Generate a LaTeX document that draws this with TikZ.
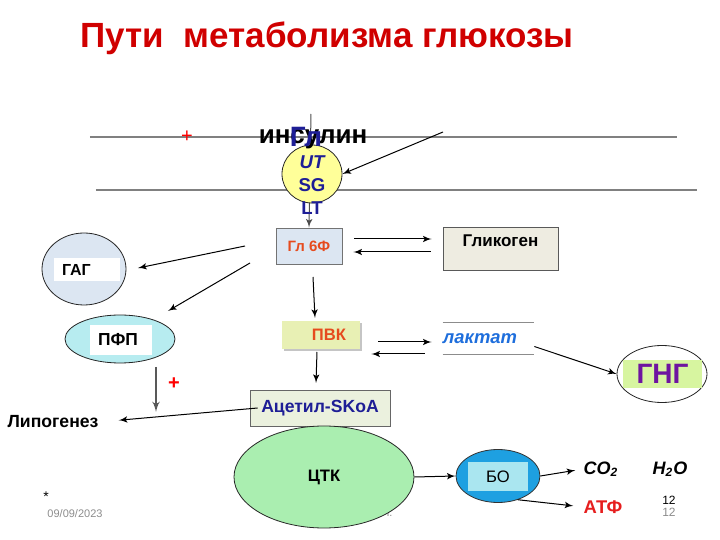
\documentclass[tikz,border=0pt]{standalone}
\usepackage{fontspec}
\setmainfont{Liberation Sans}
\usepackage{tikz}
\usetikzlibrary{shapes,arrows,shadows}
\definecolor{titlered}{RGB}{208,0,0}
\definecolor{membrane}{RGB}{128,128,128}
\definecolor{glutfill}{RGB}{255,255,153}
\definecolor{navy}{RGB}{30,30,150}
\definecolor{bluegray}{RGB}{220,230,242}
\definecolor{orred}{RGB}{230,75,30}
\definecolor{glycfill}{RGB}{238,236,225}
\definecolor{pfpfill}{RGB}{183,236,240}
\definecolor{pvkfill}{RGB}{232,240,180}
\definecolor{laktblue}{RGB}{30,110,220}
\definecolor{gngfill}{RGB}{215,245,160}
\definecolor{gngtext}{RGB}{110,20,160}
\definecolor{acfill}{RGB}{235,241,222}
\definecolor{ctkfill}{RGB}{170,238,176}
\definecolor{bofill}{RGB}{30,160,225}
\definecolor{boinner}{RGB}{170,230,240}
\definecolor{atfred}{RGB}{230,30,30}
\newcommand*{\fs}[1]{\fontsize{#1}{#1}\selectfont}
\tikzstyle{block} = [draw=black!55, rectangle, inner sep=0pt]
\tikzstyle{pool} = [draw=black!85, ellipse, inner sep=0pt]
\tikzstyle{tag} = [fill=white, rectangle, inner sep=0pt]
\tikzstyle{txt} = [inner sep=0pt, font=\bfseries]
\tikzstyle{arr} = [->, line width=0.5pt]
\tikzstyle{wall} = [draw=membrane, line width=1pt]

\begin{document}
\begin{tikzpicture}[x=0.5pt, y=-0.5pt, >=latex']
    \useasboundingbox (0,0) rectangle (720,540);
    \node [txt, text=titlered, font=\bfseries\fs{17.5}] (title) at (327,38) {Пути~ метаболизма глюкозы};

    % membrane
    \coordinate (m1a) at (90,137);
    \coordinate (m1b) at (677,137);
    \coordinate (m2a) at (96,190);
    \coordinate (m2b) at (697,190);
    \coordinate (mtop) at (311,114);
    \draw [wall] (m1a) -- (m1b);
    \draw [wall] (m2a) -- (m2b);
    \node [txt, text=red, font=\fs{10}] (plus1) at (187,137) {+};

    \node [block, fill=bluegray, minimum width=33pt, minimum height=18pt,
           font=\bfseries\fs{7.5}, text=orred] (gl6f) at (309,246) {Гл 6Ф};
    \draw [arr, draw=black!70] (mtop) -- (gl6f.north);
    \node [pool, fill=glutfill, minimum width=30pt, minimum height=29pt] (glut) at (312,174) {};
    \node [txt, font=\bfseries\fs{13}] (insulin) at (313,139) {инсулин};
    \node [txt, text=navy, font=\bfseries\fs{14}] (gl) at (306,137) {Гл};
    \node [txt, text=navy, font=\bfseries\itshape\fs{9.3}] (ut) at (312,162) {UT};
    \node [txt, text=navy, font=\bfseries\fs{9.3}] (sg) at (312,185) {SG};
    \node [txt, text=navy, font=\bfseries\fs{9.3}] (lt) at (312,208) {LT};
    \coordinate (insA) at (443,132);
    \draw [arr] (insA) -- (glut.east);

    % glycogen
    \node [block, draw=black!65, fill=glycfill, minimum width=57.5pt, minimum height=21.5pt,
           text height=10pt, text depth=11.5pt, font=\bfseries\fs{8.5}] (glyc) at (500.5,248.5) {Гликоген};
    \draw [arr, shorten <=6pt, shorten >=5.5pt] ([yshift=3.5pt]gl6f.east) -- ([yshift=3.5pt]gl6f.east -| glyc.west);
    \draw [arr, shorten <=6pt, shorten >=5.5pt] ([yshift=-3pt]gl6f.east -| glyc.west) -- ([yshift=-3pt]gl6f.east);

    % GAG and PFP
    \node [pool, fill=bluegray, minimum width=42pt, minimum height=36pt] (gag) at (84,269) {};
    \node [tag, minimum width=33pt, minimum height=11.5pt, text width=25pt, inner xsep=4pt,
           align=left, font=\bfseries\fs{8}] (gagt) at (87,269.5) {ГАГ};
    \node [pool, fill=pfpfill, minimum width=55pt, minimum height=24pt] (pfp) at (120,339) {};
    \node [tag, minimum width=31pt, minimum height=15pt, text width=23pt, inner xsep=4pt,
           align=left, font=\bfseries\fs{8.7}] (pfpt) at (121,340) {ПФП};
    \coordinate (g1a) at (245,246);
    \coordinate (g1b) at (138,268);
    \coordinate (g2a) at (250,263);
    \coordinate (g2b) at (168,311);
    \draw [arr] (g1a) -- (g1b);
    \draw [arr] (g2a) -- (g2b);

    % PVK and lactate
    \node [rectangle, inner sep=0pt, fill=pvkfill, minimum width=39pt, minimum height=14pt,
           drop shadow={shadow xshift=1pt, shadow yshift=-1pt, fill=black!45},
           text width=39pt, align=right, font=\bfseries\fs{8.3}, text=orred] (pvk) at (321,335) {ПВК\hspace*{7pt}};
    \coordinate (p1a) at (313,277);
    \coordinate (p1b) at (315,318);
    \draw [arr] (p1a) -- (p1b);
    \node [inner sep=0pt, minimum width=45.5pt, minimum height=15.5pt, text width=45.5pt, align=left,
           font=\bfseries\itshape\fs{9.2}, text=laktblue] (lakt) at (488.5,338.5) {лактат};
    \draw [draw=black!45, line width=0.6pt] (lakt.north west) -- (lakt.north east);
    \draw [draw=black!45, line width=0.6pt] (lakt.south west) -- (lakt.south east);
    \draw [arr, shorten <=9pt, shorten >=5.5pt] ([yshift=-3.5pt]pvk.east) -- ([yshift=-3.5pt]pvk.east -| lakt.west);
    \draw [arr, shorten <=9pt, shorten >=5.5pt] ([yshift=-9.5pt]pvk.east -| lakt.west) -- ([yshift=-9.5pt]pvk.east);
    \node [pool, fill=white, minimum width=45pt, minimum height=28.5pt] (gng) at (662,374) {};
    \node [rectangle, inner sep=0pt, fill=gngfill, minimum width=39.5pt, minimum height=14pt,
           font=\bfseries\fs{14}, text=gngtext] (gngt) at (662.5,374) {ГНГ};
    \draw [arr] ([yshift=-4pt]lakt.east) -- (gng.west);

    % acetyl-CoA and lipogenesis
    \node [block, draw=black!60, fill=acfill, minimum width=70pt, minimum height=18pt,
           font=\bfseries\fs{8.8}, text=navy] (acetyl) at (320,408) {Ацетил-SKoA};
    \coordinate (a1a) at (317,352);
    \coordinate (a1b) at (316,383);
    \draw [arr] (a1a) -- (a1b);
    \node [txt, font=\bfseries\fs{8.8}] (lipo) at (53,422) {Липогенез};
    \coordinate (l1a) at (156,367);
    \coordinate (l1b) at (156,412);
    \draw [arr, draw=black!65, line width=0.8pt] (l1a) -- (l1b);
    \node [txt, text=red, font=\bfseries\fs{10}] (plus2) at (174,384) {+};
    \draw [arr, shorten >=10pt] ([xshift=4pt]acetyl.west) -- (lipo.east);

    % footer
    \node [inner sep=0pt, font=\fs{7}] (star) at (46,497) {*};
    \node [inner sep=0pt, font=\fs{5.5}, text=black!45] (date) at (75,514) {09/09/2023};
    \node [inner sep=0pt, font=\fs{5.5}, text=black!45] (foot) at (389,514) {т.};

    % TCA and respiration
    \node [pool, fill=ctkfill, minimum width=90pt, minimum height=51pt,
           font=\bfseries\fs{8.3}] (ctk) at (324,477) {ЦТК};
    \node [pool, draw=black!80, fill=bofill, minimum width=42pt, minimum height=26.5pt] (bo) at (498,476) {};
    \node [rectangle, inner sep=0pt, fill=boinner, minimum width=30pt, minimum height=14.5pt,
           font=\fs{8.3}] (bot) at (498,476.5) {БО};
    \draw [arr] (ctk.east) -- (bo.west);
    \node [txt, font=\bfseries\itshape\fs{9}] (co2) at (601,469) {CO\textsubscript{2}};
    \node [txt, font=\bfseries\itshape\fs{9}] (h2o) at (670,469) {H\textsubscript{2}O};
    \node [txt, text=atfred, font=\bfseries\fs{9.2}] (atf) at (603,507) {АТФ};
    \draw [arr, shorten >=4pt] (bo.east) -- (co2.west);
    \draw [arr, shorten >=5pt] (bo.-50) -- (atf.west);
    \node [inner sep=0pt, font=\fs{6}] (n12a) at (669,500) {12};
    \node [inner sep=0pt, font=\fs{6}, text=black!45] (n12b) at (669,512) {12};
\end{tikzpicture}
\end{document}
